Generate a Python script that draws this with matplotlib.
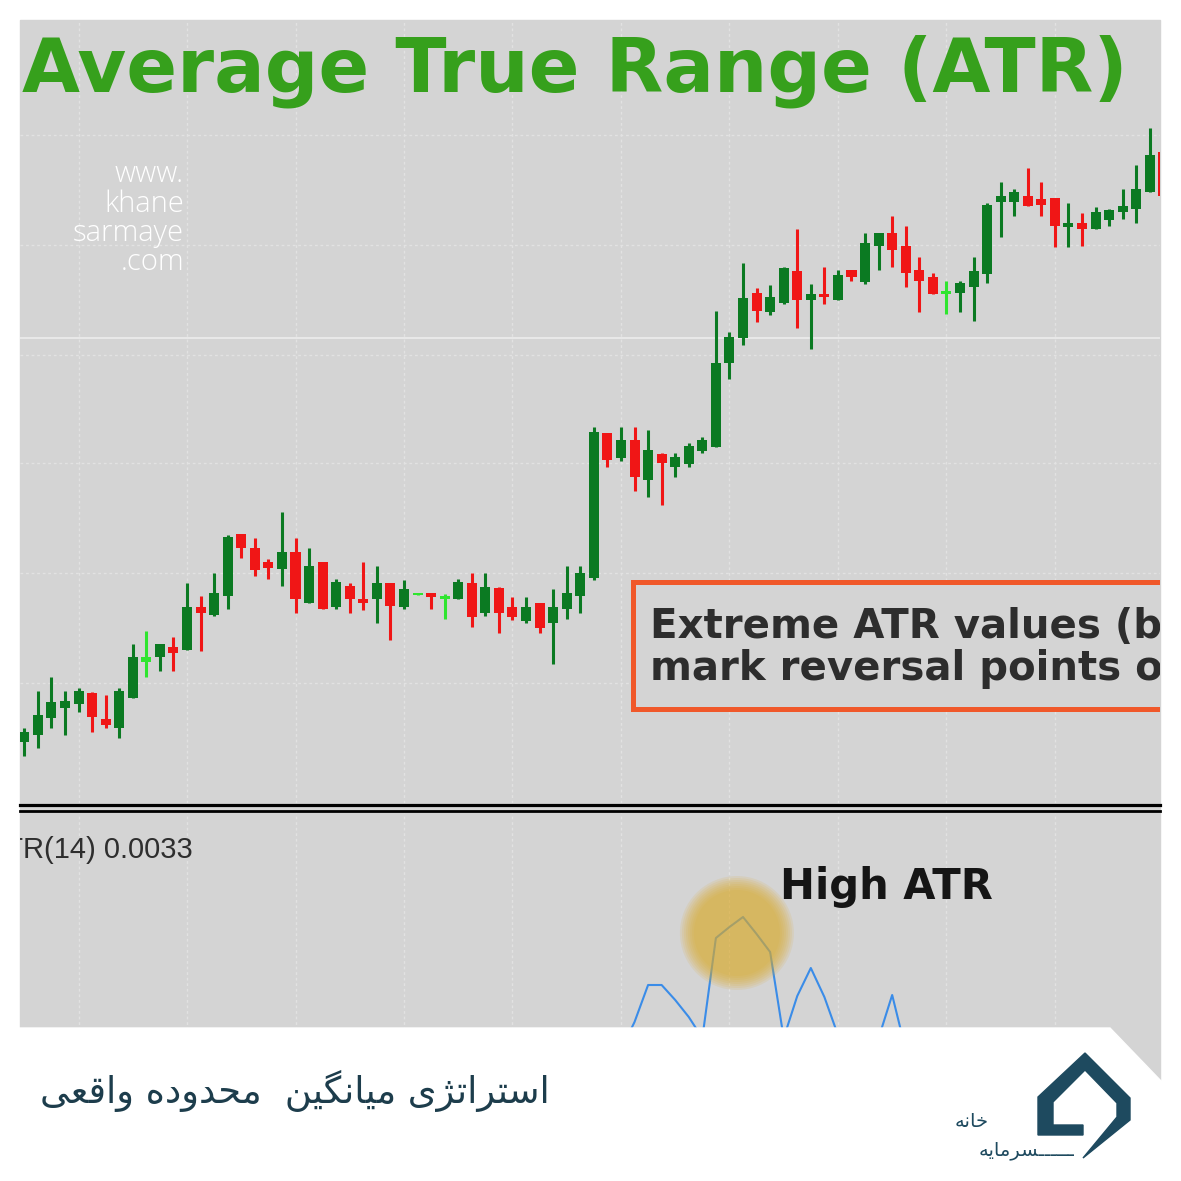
import numpy as np
import matplotlib
matplotlib.use('Agg')
import matplotlib.pyplot as plt
from matplotlib.patches import Rectangle, Polygon, Ellipse
from matplotlib.lines import Line2D

# candles: levels in chart points (0 = bottom of price pane)
opens = [58, 65, 82, 92, 96, 107, 81, 72, 102, 138,
         143, 153, 150, 193, 185, 204, 266, 252, 238, 231,
         248, 197, 238, 193, 214, 201, 201, 217, 193, 205,
         207, 201, 201, 217, 187, 212, 193, 179, 197, 177,
         191, 204, 222, 367, 342, 360, 320, 346, 333, 336,
         349, 353, 437, 462, 507, 488, 497, 529, 500, 506,
         500, 530, 518, 554, 567, 554, 530, 523, 506, 507,
         513, 526, 598, 598, 604, 601, 602, 573, 577, 571,
         580, 588, 591, 608, 648]
highs = [72, 109, 123, 109, 112, 108, 105, 112, 156, 169,
         156, 163, 217, 204, 227, 265, 266, 262, 241, 288,
         262, 252, 238, 221, 217, 238, 234, 217, 220, 206,
         207, 206, 221, 227, 227, 213, 203, 203, 197, 211,
         234, 234, 373, 367, 373, 373, 370, 347, 347, 357,
         363, 489, 468, 537, 512, 515, 533, 571, 516, 533,
         530, 530, 567, 567, 584, 574, 543, 527, 519, 519,
         543, 597, 618, 611, 632, 618, 602, 597, 587, 593,
         591, 611, 635, 672, 648]
lows = [44, 52, 72, 65, 88, 68, 72, 62, 102, 123,
        129, 129, 150, 149, 184, 191, 242, 224, 221, 214,
        187, 197, 191, 191, 187, 190, 177, 160, 191, 205,
        191, 181, 201, 173, 184, 167, 180, 177, 167, 136,
        181, 187, 220, 333, 339, 309, 303, 295, 323, 333,
        347, 353, 421, 455, 478, 485, 496, 472, 451, 496,
        500, 519, 516, 530, 533, 513, 488, 506, 486, 488,
        479, 517, 563, 584, 594, 584, 553, 553, 554, 571,
        574, 581, 577, 608, 604]
closes = [68, 85, 98, 99, 109, 83, 75, 109, 143, 143,
          156, 147, 193, 187, 207, 263, 252, 230, 232, 248,
          201, 234, 191, 218, 201, 197, 217, 194, 211, 206,
          203, 204, 218, 183, 213, 187, 183, 193, 172, 193,
          207, 227, 368, 340, 360, 323, 350, 337, 343, 354,
          360, 437, 463, 502, 489, 503, 532, 500, 506, 503,
          525, 523, 557, 567, 550, 527, 519, 506, 509, 517,
          529, 595, 604, 608, 594, 595, 574, 577, 571, 588,
          590, 594, 611, 645, 604]
lime_bars = [9, 29, 31, 68]

# ATR(14) line, in pane points (0 = where the footer cuts the pane)
atr_bar = [44, 45, 46, 47, 48, 49, 50, 51, 52, 53, 54,
           55, 56, 57, 58, 59, 60, 61, 62, 63, 64, 65]
atr_val = [-20, 8, 45, 45, 30, 13, -8, 92, 103, 113, 96,
           78, -8, 34, 62, 33, -5, -12, -12, -8, 35, -20]

title = 'Average True Range (ATR)'
note_lines = ['Extreme ATR values (b', 'mark reversal points o']
atr_label = 'ATR(14) 0.0033'
peak_label = 'High ATR'
site_lines = ['www.', 'khane', 'sarmaye', '.com']
footer_title = 'استراتژی میانگین  محدوده واقعی'
logo_words = ['خانه', '\u0640' * 6 + 'سرمایه']

GREEN = '#0b7a22'
RED = '#f01616'
LIME = '#2fe52f'
BG = '#d4d4d4'
TEAL = '#1e4a5f'

W = H = 1181


def fx(x):
    return x / W


def fy(y):
    return 1 - y / H


# contextual forms (isolated, final, initial, medial) for the letters used
FORMS = {
    'ا': ('\uFE8D', '\uFE8E', None, None),
    'س': ('\uFEB1', '\uFEB2', '\uFEB3', '\uFEB4'),
    'ت': ('\uFE95', '\uFE96', '\uFE97', '\uFE98'),
    'ر': ('\uFEAD', '\uFEAE', None, None),
    'ژ': ('\uFB8A', '\uFB8B', None, None),
    'ی': ('\uFBFC', '\uFBFD', '\uFBFE', '\uFBFF'),
    'م': ('\uFEE1', '\uFEE2', '\uFEE3', '\uFEE4'),
    'ن': ('\uFEE5', '\uFEE6', '\uFEE7', '\uFEE8'),
    'گ': ('\uFB92', '\uFB93', '\uFB94', '\uFB95'),
    'ح': ('\uFEA1', '\uFEA2', '\uFEA3', '\uFEA4'),
    'د': ('\uFEA9', '\uFEAA', None, None),
    'و': ('\uFEED', '\uFEEE', None, None),
    'ه': ('\uFEE9', '\uFEEA', '\uFEEB', '\uFEEC'),
    'ق': ('\uFED5', '\uFED6', '\uFED7', '\uFED8'),
    'ع': ('\uFEC9', '\uFECA', '\uFECB', '\uFECC'),
    'خ': ('\uFEA5', '\uFEA6', '\uFEA7', '\uFEA8'),
}


def rtl(text):
    def dual(ch):
        return ch == '\u0640' or (ch in FORMS and FORMS[ch][2] is not None)
    out = []
    for i, ch in enumerate(text):
        if ch not in FORMS:
            out.append(ch)
            continue
        prev = text[i - 1] if i > 0 else ''
        nxt = text[i + 1] if i + 1 < len(text) else ''
        jp = dual(prev)
        jn = FORMS[ch][2] is not None and (nxt in FORMS or nxt == '\u0640')
        iso, fin, ini, med = FORMS[ch]
        out.append(med if jp and jn else fin if jp else ini if jn else iso)
    return ''.join(reversed(out))


fig = plt.figure(figsize=(W / 100, H / 100), dpi=100, facecolor='white')

# gray chart area behind both panes
fig.add_artist(Rectangle((fx(20), fy(1080)), 1140 / W, 1060 / H,
                         transform=fig.transFigure, color=BG, zorder=-1))

# ---- price pane
ax = fig.add_axes([fx(20), fy(803), 1140 / W, 783 / H])
ax.set_facecolor(BG)
o = np.array(opens)
c = np.array(closes)
hi = np.array(highs)
lo = np.array(lows)
x = np.arange(len(o))
cols = np.where(c >= o, GREEN, RED).astype(object)
cols[lime_bars] = LIME
ax.vlines(x, lo, hi, colors=list(cols), lw=2.2, zorder=3)
ax.bar(x, np.maximum(np.abs(c - o), 2), bottom=np.minimum(o, c), width=0.74,
       color=list(cols), zorder=4)

ax.set_xticks(np.arange(4, 80, 8))
ax.set_yticks([117, 227, 337, 445, 555, 665])
ax.grid(True, color='#e2e2e2', ls=(0, (2, 2)), lw=1)
ax.axhline(462, color='#e8e8e8', lw=1.5, zorder=1)
ax.tick_params(length=0, labelbottom=False, labelleft=False)
for s in ax.spines.values():
    s.set_visible(False)

box = Rectangle((fx(633), fy(709)), (1220 - 633) / W, (709 - 582) / H,
                transform=fig.transFigure, facecolor=BG, edgecolor='#f0582a',
                lw=3.6, zorder=5)
ax.add_patch(box)
for line, yb in zip(note_lines, [638, 680]):
    ax.text(fx(650), fy(yb), line, transform=fig.transFigure, fontsize=29,
            fontweight='bold', color='#2d2d2d', va='baseline', ha='left',
            zorder=6, clip_on=True)

ax.set_xlim(-0.317, 83.75)
ax.set_ylim(-3, 780)

# ---- ATR pane
ax2 = fig.add_axes([fx(20), fy(1080), 1140 / W, 267 / H])
ax2.set_facecolor(BG)
ax2.plot(atr_bar, atr_val, color='#3a8ce8', lw=1.5, zorder=3)
pk = int(np.argmax(atr_val))
cx, cy = atr_bar[pk] - 0.45, atr_val[pk] - 16
for r in np.linspace(57, 43, 8):
    ax2.add_patch(Ellipse((cx, cy), 2 * r / 13.56, 2 * r, color='#ddac2d',
                          alpha=0.13, lw=0, zorder=4))
ax2.set_xticks(np.arange(4, 80, 8))
ax2.set_yticks([])
ax2.grid(True, axis='x', color='#e2e2e2', ls=(0, (2, 2)), lw=1)
ax2.tick_params(length=0, labelbottom=False, labelleft=False)
for s in ax2.spines.values():
    s.set_visible(False)
ax2.text(fx(-12), fy(858), atr_label, transform=fig.transFigure, fontsize=21,
         family='Liberation Sans', color='#2e2e2e', va='baseline', ha='left',
         clip_on=True)
ax2.text(fx(780), fy(899), peak_label, transform=fig.transFigure, fontsize=30,
         fontweight='bold', color='#151515', va='baseline', ha='left', zorder=6)
ax2.set_xlim(-0.317, 83.75)
ax2.set_ylim(-50, 217)

# pane separator
fig.add_artist(Line2D([fx(20), fx(1160)], [fy(804.5)] * 2, color='black',
                      lw=2.3, transform=fig.transFigure, zorder=3))
fig.add_artist(Line2D([fx(20), fx(1160)], [fy(811)] * 2, color='black',
                      lw=2.0, transform=fig.transFigure, zorder=3))

# title and site watermark
fig.text(fx(22), fy(92), title, fontsize=54, fontweight='bold', color='#36a01c',
         va='baseline', ha='left', zorder=6)
for line, yb in zip(site_lines, [182, 212, 241, 270]):
    fig.text(fx(184), fy(yb), line, fontsize=21, family='Open Sans',
             fontweight='light', color='white', va='baseline', ha='right', zorder=6)

# white footer band with its slanted corner
fig.add_artist(Polygon([(fx(0), fy(1028)), (fx(1110), fy(1028)), (fx(1162), fy(1082)),
                        (fx(1181), fy(1082)), (fx(1181), fy(1181)), (fx(0), fy(1181))],
                       closed=True, transform=fig.transFigure, color='white', zorder=5))

renderer = fig.canvas.get_renderer()
ft = fig.text(fx(550), fy(1103), rtl(footer_title), fontsize=26, family=['DejaVu Sans'],
              color='#1d3d4c', va='baseline', ha='right', zorder=7)
ft.set_fontsize(ft.get_fontsize() * 510 / ft.get_window_extent(renderer).width)

# logo
logo = [(1085, 1053), (1130, 1098), (1130, 1120), (1083, 1158), (1117, 1117),
        (1117, 1103), (1085, 1070), (1053, 1102), (1053, 1125), (1083, 1125),
        (1083, 1135), (1038, 1135), (1038, 1097)]
fig.add_artist(Polygon([(fx(a), fy(b)) for a, b in logo], closed=True,
                       transform=fig.transFigure, color=TEAL, zorder=7))
fig.text(fx(989), fy(1127), rtl(logo_words[0]), fontsize=14, family=['DejaVu Sans'],
         color=TEAL, va='baseline', ha='right', zorder=7)
fig.text(fx(1074), fy(1155), rtl(logo_words[1]), fontsize=14, family=['DejaVu Sans'],
         color=TEAL, va='baseline', ha='right', zorder=7)

fig.savefig('out.png', dpi=100, facecolor='white')
